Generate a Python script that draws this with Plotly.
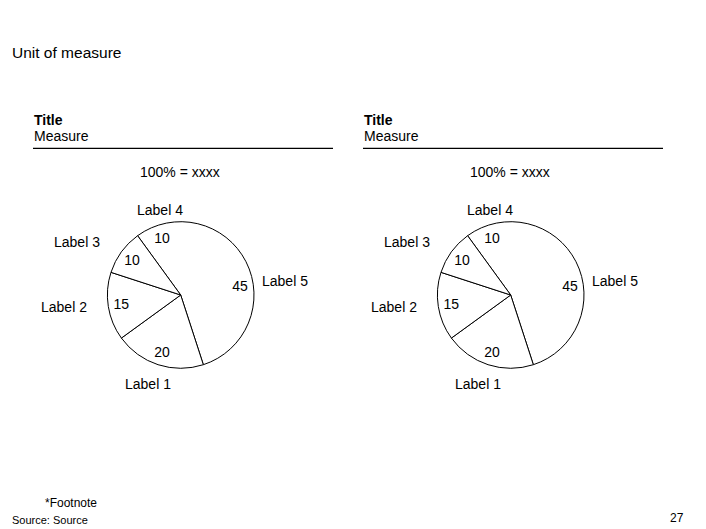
import plotly.graph_objects as go

# ---------------- data ----------------
slice_labels = ["Label 5", "Label 1", "Label 2", "Label 3", "Label 4"]
left_values = [45, 20, 15, 10, 10]
right_values = [45, 20, 15, 10, 10]
panel_titles = ["Title", "Title"]
panel_measures = ["Measure", "Measure"]
panel_totals = ["100% = xxxx", "100% = xxxx"]
unit_text = "Unit of measure"
footnote_text = "*Footnote"
source_text = "Source: Source"
page_number = "27"

# ---------------- layout helpers ----------------
W, H = 706, 529
FONT = "Liberation Sans, Arial, sans-serif"


def px(x):
    return x / W


def py(y):
    return 1 - y / H


R = 73.3
centers = [(180.7, 295.0), (510.7, 295.0)]
# label offsets from pie centre (pixels), same order as slice_labels
label_offsets = [(104.3, -14), (-32.7, 89), (-116.7, 12), (-103.2, -53), (-20.7, -85)]

fig = go.Figure()
annotations = []
shapes = []

for p, (vals, (cx, cy)) in enumerate(zip([left_values, right_values], centers)):
    dom = dict(x=[px(cx - R), px(cx + R)], y=[py(cy + R), py(cy - R)])
    total = sum(vals)
    # outline: first and last slices drawn as one piece (no divider at 12 o'clock)
    outline_vals = [vals[0] + vals[-1]] + vals[1:-1]
    outline_labels = [slice_labels[0] + " / " + slice_labels[-1]] + slice_labels[1:-1]
    fig.add_trace(go.Pie(
        values=outline_vals, labels=outline_labels, sort=False,
        direction="clockwise", rotation=-360 * vals[-1] / total,
        domain=dom, textinfo="none", hoverinfo="skip", showlegend=False,
        marker=dict(colors=["white"] * len(outline_vals),
                    line=dict(color="black", width=1)),
    ))
    # values
    fig.add_trace(go.Pie(
        values=vals, labels=slice_labels, sort=False,
        direction="clockwise", rotation=0, hole=0.64,
        domain=dom, textinfo="value", textposition="inside",
        insidetextorientation="horizontal",
        insidetextfont=dict(size=14, color="black", family=FONT),
        hoverinfo="skip", showlegend=False,
        marker=dict(colors=["rgba(0,0,0,0)"] * len(vals), line=dict(width=0)),
    ))
    # slice labels
    for lab, (dx, dy) in zip(slice_labels, label_offsets):
        annotations.append(dict(
            x=px(cx + dx), y=py(cy + dy), xref="paper", yref="paper",
            text=lab, showarrow=False, xanchor="center", yanchor="middle",
            font=dict(size=14, color="black", family=FONT)))
    # panel header
    x0 = 33 + 330 * p
    annotations.append(dict(
        x=px(x0 - 1), y=py(119.5), xref="paper", yref="paper",
        text="<b>" + panel_titles[p] + "</b>", showarrow=False,
        xanchor="left", yanchor="middle",
        font=dict(size=14, color="black", family=FONT)))
    annotations.append(dict(
        x=px(x0 - 1), y=py(135.5), xref="paper", yref="paper",
        text=panel_measures[p], showarrow=False,
        xanchor="left", yanchor="middle",
        font=dict(size=14, color="black", family=FONT)))
    shapes.append(dict(type="line", xref="paper", yref="paper",
                       x0=px(x0), x1=px(x0 + 300), y0=py(148.3), y1=py(148.3),
                       line=dict(color="black", width=1.2)))
    annotations.append(dict(
        x=px(cx - 1), y=py(172), xref="paper", yref="paper",
        text=panel_totals[p], showarrow=False,
        xanchor="center", yanchor="middle",
        font=dict(size=14, color="black", family=FONT)))

annotations.append(dict(
    x=px(10), y=py(52.5), xref="paper", yref="paper", text=unit_text,
    showarrow=False, xanchor="left", yanchor="middle",
    font=dict(size=15.5, color="black", family=FONT)))
annotations.append(dict(
    x=px(99), y=py(503), xref="paper", yref="paper", text=footnote_text,
    showarrow=False, xanchor="right", yanchor="middle",
    font=dict(size=12, color="black", family=FONT)))
annotations.append(dict(
    x=px(10), y=py(519.5), xref="paper", yref="paper", text=source_text,
    showarrow=False, xanchor="left", yanchor="middle",
    font=dict(size=11, color="black", family=FONT)))
annotations.append(dict(
    x=px(686), y=py(518), xref="paper", yref="paper", text=page_number,
    showarrow=False, xanchor="right", yanchor="middle",
    font=dict(size=12, color="black", family=FONT)))

fig.update_layout(
    width=W, height=H,
    margin=dict(l=0, r=0, t=0, b=0),
    paper_bgcolor="white", plot_bgcolor="white",
    annotations=annotations, shapes=shapes,
    font=dict(family=FONT, color="black"),
)

fig.write_html(
    "out.html",
    config={"displayModeBar": False},
    post_script="document.body.style.margin='0';document.body.style.padding='0';",
)
